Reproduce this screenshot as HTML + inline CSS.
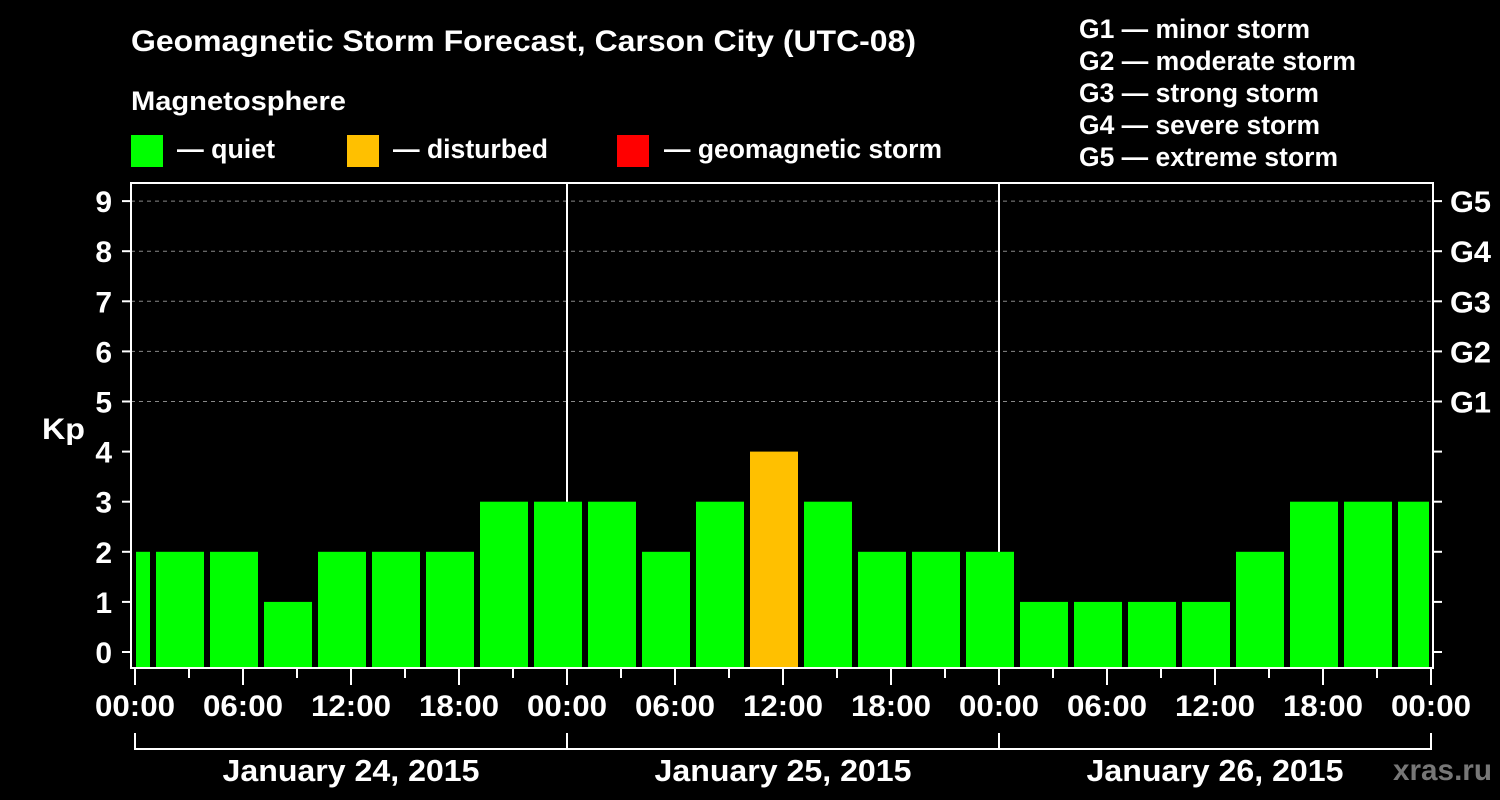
<!DOCTYPE html>
<html><head><meta charset="utf-8"><style>
body{margin:0;background:#000;}
svg{display:block;font-family:"Liberation Sans",Arial,sans-serif;font-weight:bold;}
</style></head><body>
<svg id="chart" width="1500" height="800" viewBox="0 0 1500 800">
<rect width="1500" height="800" fill="#000"/>
<text x="131" y="51" fill="#fff" font-size="30" textLength="785" lengthAdjust="spacingAndGlyphs">Geomagnetic Storm Forecast, Carson City (UTC-08)</text>
<text x="131" y="110" fill="#fff" font-size="27" textLength="215" lengthAdjust="spacingAndGlyphs">Magnetosphere</text>
<g><rect x="131" y="135" width="32" height="32" fill="#00ff00"/><text x="177" y="158" fill="#fff" font-size="27" textLength="98" lengthAdjust="spacingAndGlyphs">— quiet</text></g>
<g><rect x="347" y="135" width="32" height="32" fill="#ffc000"/><text x="393" y="158" fill="#fff" font-size="27" textLength="155" lengthAdjust="spacingAndGlyphs">— disturbed</text></g>
<g><rect x="617" y="135" width="32" height="32" fill="#ff0000"/><text x="664" y="158" fill="#fff" font-size="27" textLength="278" lengthAdjust="spacingAndGlyphs">— geomagnetic storm</text></g>
<g fill="#fff" font-size="27">
<text x="1079" y="38" textLength="231" lengthAdjust="spacingAndGlyphs">G1 — minor storm</text>
<text x="1079" y="70" textLength="277" lengthAdjust="spacingAndGlyphs">G2 — moderate storm</text>
<text x="1079" y="102" textLength="240" lengthAdjust="spacingAndGlyphs">G3 — strong storm</text>
<text x="1079" y="134" textLength="241" lengthAdjust="spacingAndGlyphs">G4 — severe storm</text>
<text x="1079" y="166" textLength="259" lengthAdjust="spacingAndGlyphs">G5 — extreme storm</text>
</g>
<text x="42" y="439" fill="#fff" font-size="30" textLength="43" lengthAdjust="spacingAndGlyphs">Kp</text>
<text x="1492" y="780" fill="#777" font-size="30" text-anchor="end" textLength="99" lengthAdjust="spacingAndGlyphs">xras.ru</text>
<g id="plot"></g>
</svg>
<script>
const kpValues=[2,2,2,1,2,2,2,3,3,3,2,3,4,3,2,2,2,1,1,1,1,2,3,3,3];
const firstBarStartHour=-2;
const barHours=3;
const yTicks=[0,1,2,3,4,5,6,7,8,9];
const gLabels=["G1","G2","G3","G4","G5"];
const gLevels=[5,6,7,8,9];
const xTickLabels=["00:00","06:00","12:00","18:00","00:00","06:00","12:00","18:00","00:00","06:00","12:00","18:00","00:00"];
const dayLabels=["January 24, 2015","January 25, 2015","January 26, 2015"];
const totalHours=72;

const X0=135,X1=1431,L=131,R=1433,T=183,B=668;
const xs=h=>X0+(X1-X0)*h/totalHours;
const ys=v=>652-v*50.1;
const ns="http://www.w3.org/2000/svg";
const g=document.getElementById('plot');
function mk(t,a,p){const e=document.createElementNS(ns,t);for(const k in a)e.setAttribute(k,a[k]);(p||g).appendChild(e);return e;}

gLevels.forEach((v,i)=>{
 const l=mk('line',{x1:L,x2:R,y1:ys(v),y2:ys(v),stroke:'#888','stroke-dasharray':'4,4','stroke-width':1});
 
 
});
[24,48].forEach(h=>{
 const l=mk('line',{x1:xs(h),x2:xs(h),y1:T,y2:B,stroke:'#fff','stroke-width':2});
 
 
});
kpValues.forEach((v,i)=>{
 const s=firstBarStartHour+i*barHours;
 let a=Math.max(xs(s)+3,X0+1),b=Math.min(xs(s+barHours)-3,R-4);
 const c=v>=5?'#ff0000':(v>=4?'#ffc000':'#00ff00');
 const r=mk('rect',{x:a,y:ys(v),width:b-a,height:B-ys(v),fill:c});
 
 
});
const frame=mk('rect',{x:L,y:T,width:R-L,height:B-T,fill:'none',stroke:'#fff','stroke-width':2});


yTicks.forEach(v=>{
 mk('line',{x1:122,x2:L,y1:ys(v),y2:ys(v),stroke:'#fff','stroke-width':2});
 mk('line',{x1:R,x2:1442,y1:ys(v),y2:ys(v),stroke:'#fff','stroke-width':2});
 const t=mk('text',{x:112,y:ys(v)+11,fill:'#fff','font-size':30,'text-anchor':'end'});
 t.textContent=v;
 
 
});
gLevels.forEach((v,i)=>{
 const t=mk('text',{x:1450,y:ys(v)+11,fill:'#fff','font-size':30,textLength:41,lengthAdjust:'spacingAndGlyphs'});
 t.textContent=gLabels[i];
 
 
});
for(let h=0;h<=totalHours;h+=3){
 mk('line',{x1:xs(h),x2:xs(h),y1:B,y2:h%6===0?685:678,stroke:'#fff','stroke-width':2});
}
xTickLabels.forEach((s,i)=>{
 const t=mk('text',{x:xs(i*6),y:716,fill:'#fff','font-size':30,'text-anchor':'middle',textLength:80,lengthAdjust:'spacingAndGlyphs'});
 t.textContent=s;
 
 
});
mk('line',{x1:X0,x2:X1,y1:749,y2:749,stroke:'#fff','stroke-width':2});
[0,24,48,72].forEach(h=>mk('line',{x1:xs(h),x2:xs(h),y1:733,y2:750,stroke:'#fff','stroke-width':2}));
dayLabels.forEach((s,i)=>{
 const t=mk('text',{x:xs(i*24+12),y:781,fill:'#fff','font-size':31,'text-anchor':'middle',textLength:257,lengthAdjust:'spacingAndGlyphs'});
 t.textContent=s;
 
 
});
</script>
</body></html>
